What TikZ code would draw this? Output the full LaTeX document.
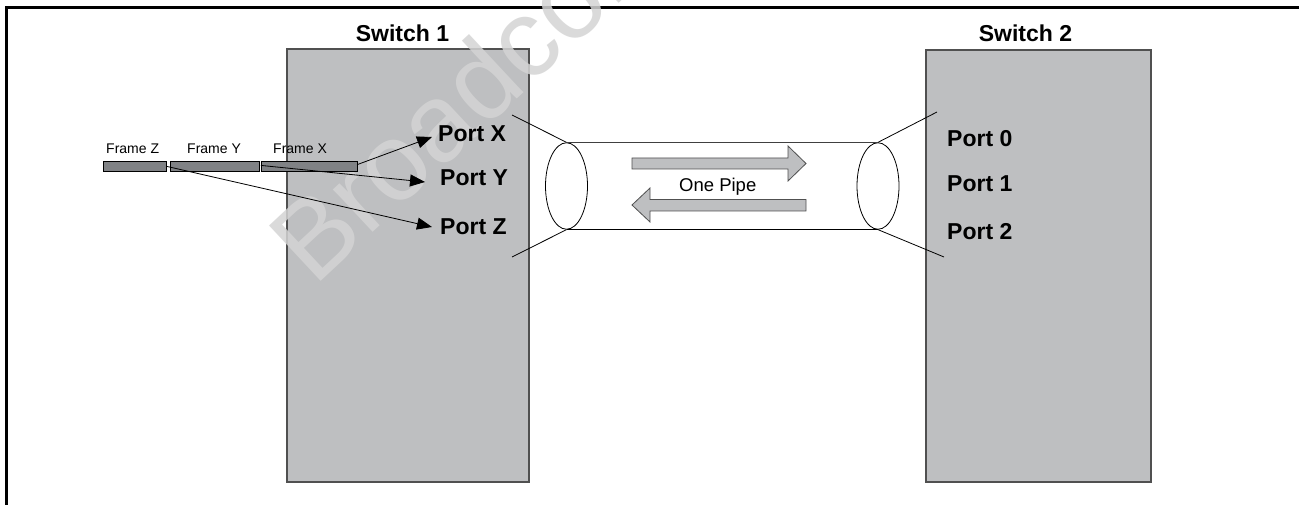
\documentclass[tikz,border=0pt]{standalone}
\usepackage{fontspec}
\setmainfont{Liberation Sans}
\usetikzlibrary{arrows.meta,calc,shapes.geometric}
\definecolor{boxgray}{HTML}{BEBFC1}
\definecolor{bargray}{HTML}{808285}
\definecolor{edgegray}{HTML}{505050}
\definecolor{wmgray}{HTML}{D4D4D4}
\tikzset{
  switchbox/.style={draw=edgegray,fill=boxgray,line width=1.1pt},
  framebar/.style={draw=black,fill=bargray,line width=0.8pt,minimum height=10pt,inner sep=0pt,anchor=north west},
  swlabel/.style={font=\bfseries\fontsize{23}{27}\selectfont,inner sep=0pt,anchor=base},
  portlabel/.style={font=\bfseries\fontsize{23}{27}\selectfont,inner sep=0pt,anchor=base west},
  framelabel/.style={font=\fontsize{14}{16}\selectfont,inner sep=0pt,anchor=base west},
  ptr/.style={line width=0.8pt,-{Triangle[length=15pt,width=12pt]}},
  thin line/.style={line width=0.8pt},
  pipeend/.style={draw,line width=0.8pt,ellipse,minimum width=42pt,minimum height=86.5pt,inner sep=0pt},
  blockarrow/.style={draw=edgegray,fill=boxgray,line width=0.8pt,line join=miter}
}
\begin{document}
\begin{tikzpicture}[x=1pt,y=-1pt]
\useasboundingbox (0,0) rectangle (1299,505);
\fill[white] (0,0) rectangle (1299,505);
% outer frame (top and left)
\draw[line width=2.5pt] (6.5,505) -- (6.5,7.5) -- (1299,7.5);
% switches
\draw[switchbox] (287,49) rectangle (529,482);
\draw[switchbox] (926,50) rectangle (1151,482);
% watermark
\node[font=\fontsize{110}{120}\selectfont,text=wmgray,opacity=0.85,rotate=43,anchor=base west,inner sep=0pt] (wm) at (314,288) {Broadcom};
% switch labels
\node[swlabel] (sw1) at (402.5,42) {Switch 1};
\node[swlabel] (sw2) at (1025.5,42) {Switch 2};
% ports of switch 1
\node[portlabel] (portX) at (438,142) {Port X};
\node[portlabel] (portY) at (440,186) {Port Y};
\node[portlabel] (portZ) at (440,235) {Port Z};
% ports of switch 2
\node[portlabel] (port0) at (947,147) {Port 0};
\node[portlabel] (port1) at (947,191.5) {Port 1};
\node[portlabel] (port2) at (947,240) {Port 2};
% frames
\node[framebar,minimum width=63pt] (barZ) at (103,161) {};
\node[framebar,minimum width=89pt] (barY) at (170,161) {};
\node[framebar,minimum width=96pt] (barX) at (261,161) {};
\node[framelabel] (lblZ) at (106,154) {Frame Z};
\node[framelabel] (lblY) at (187,154) {Frame Y};
\node[framelabel] (lblX) at (273,154) {Frame X};
% arrows to ports
\coordinate (tipX) at (432,137);
\coordinate (tipY) at (425,182);
\coordinate (tipZ) at (432,227);
\draw[ptr] ($(barX.east)+(0,-2)$) -- (tipX);
\draw[ptr] ($(barY.east)+(1,-1)$) -- (tipY);
\draw[ptr] (barZ.east) -- (tipZ);
% pipe
\node[pipeend] (endL) at (566.5,186) {};
\node[pipeend] (endR) at (878,186) {};
\draw[thin line,black!75] (endL.north) -- (endR.north);
\draw[thin line] (endL.south) -- (endR.south);
\coordinate (s1top) at (512,115);
\coordinate (s1bot) at (512,257);
\coordinate (s2top) at (937,112);
\coordinate (s2bot) at (944,257);
\draw[thin line] (s1top) -- (endL.north);
\draw[thin line] (s1bot) -- (endL.south);
\draw[thin line] (endR.north) -- (s2top);
\draw[thin line] (endR.south) -- (s2bot);
% block arrows
\draw[blockarrow] (632,158) -- (788,158) -- (788,146) -- (806,163.5) -- (788,181) -- (788,169) -- (632,169) -- cycle;
\draw[blockarrow] (806,199.5) -- (650,199.5) -- (650,188) -- (632,205) -- (650,222) -- (650,211) -- (806,211) -- cycle;
\node[font=\fontsize{18.5}{21}\selectfont,inner sep=0pt,anchor=base west] (pipe) at (679,192) {One Pipe};
\end{tikzpicture}
\end{document}
